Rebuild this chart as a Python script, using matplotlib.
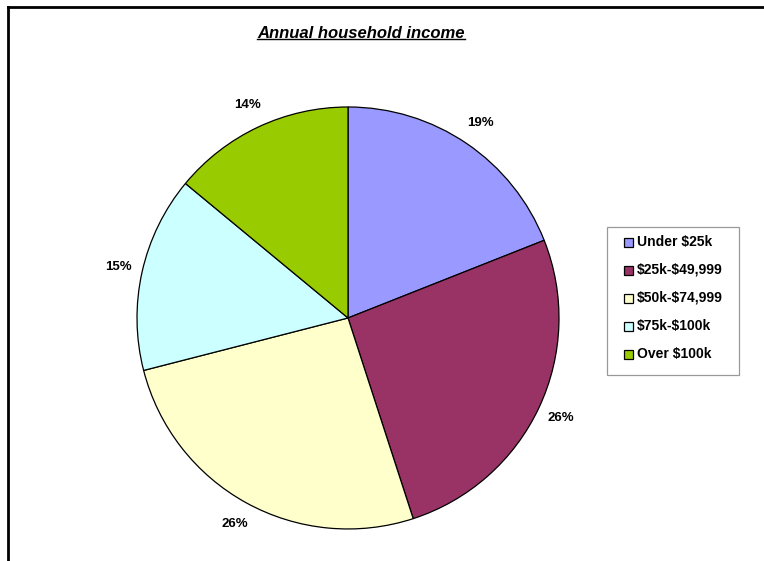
import matplotlib.pyplot as plt
from matplotlib.patches import Rectangle
from matplotlib.lines import Line2D

plt.rcParams['font.family'] = ['Liberation Sans', 'DejaVu Sans']
plt.rcParams['text.parse_math'] = False

categories = ['Under $25k', '$25k-$49,999', '$50k-$74,999', '$75k-$100k', 'Over $100k']
shares = [19, 26, 26, 15, 14]
colors = ['#9999ff', '#993366', '#ffffcc', '#ccffff', '#99cc00']

W, H = 764, 561
fig = plt.figure(figsize=(W / 100, H / 100), dpi=100)


def px(x, y):
    # pixel position (from top-left) to figure fraction
    return x / W, 1 - y / H


# pie axes, square in pixels
ax = fig.add_axes([0.1793, 0.0571, 0.5524, 0.7522])
wedges, _, pct = ax.pie(shares, colors=colors, startangle=90, counterclock=False,
                        autopct='%d%%', pctdistance=1.115,
                        wedgeprops=dict(edgecolor='black', linewidth=0.9))
for t in pct:
    t.set_fontsize(9.5)
    t.set_fontweight('bold')
ax.set_xlim(-1, 1)
ax.set_ylim(-1, 1)
ax.set_aspect('equal')

# title with underline
title = fig.text(*px(361, 33), 'Annual household income', ha='center', va='center',
                 fontsize=12, fontweight='bold', fontstyle='italic')
fig.canvas.draw()
bb = title.get_window_extent().transformed(fig.transFigure.inverted())
fig.add_artist(Line2D([bb.x0, bb.x1], [bb.y0 + 0.002, bb.y0 + 0.002], color='black',
                      linewidth=1.0, transform=fig.transFigure))

# outer frame (top and left edges)
fig.add_artist(Line2D([0.010, 1.0], [0.988, 0.988], color='black', linewidth=2,
                      transform=fig.transFigure))
fig.add_artist(Line2D([0.010, 0.010], [0.0, 0.988], color='black', linewidth=2,
                      transform=fig.transFigure))

# legend box
x0, y0 = px(607, 375)
x1, y1 = px(739, 227)
fig.add_artist(Rectangle((x0, y0), x1 - x0, y1 - y0, transform=fig.transFigure,
                         facecolor='white', edgecolor='#999999', linewidth=0.9))
sw, sh = 9 / W, 9 / H
for i, (name, c) in enumerate(zip(categories, colors)):
    cx, cy = px(624, 242 + 28 * i)
    fig.add_artist(Rectangle((cx, cy - sh / 2), sw, sh, transform=fig.transFigure,
                             facecolor=c, edgecolor='black', linewidth=0.9))
    fig.text(*px(637, 242 + 28 * i), name, ha='left', va='center',
             fontsize=10, fontweight='bold')

fig.savefig('out.png', dpi=100)
